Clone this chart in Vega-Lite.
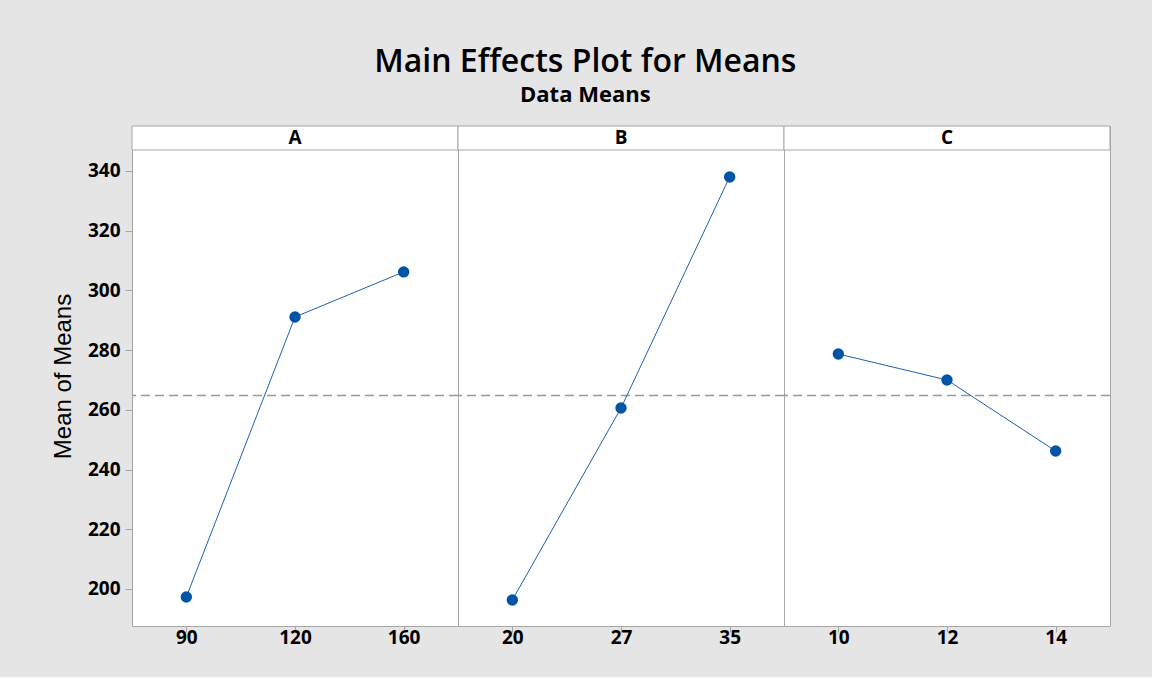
{
  "$schema": "https://vega.github.io/schema/vega-lite/v6.json",
  "background": "#e5e5e5",
  "padding": {"left": 51, "top": 46, "right": 41, "bottom": 29},
  "title": {
    "text": "Main Effects Plot for Means",
    "subtitle": "Data Means",
    "anchor": "middle",
    "frame": "bounds",
    "font": "Open Sans",
    "fontSize": 32,
    "fontWeight": 600,
    "color": "#000000",
    "subtitleFont": "Open Sans",
    "subtitleFontSize": 22,
    "subtitleFontWeight": 700,
    "subtitleColor": "#000000",
    "subtitlePadding": 6,
    "offset": 18,
    "dx": 4
  },
  "data": {
    "values": [
      {"factor": "A", "level": 90, "mean": 197.3, "grand": 264.8},
      {"factor": "A", "level": 120, "mean": 291.1, "grand": 264.8},
      {"factor": "A", "level": 160, "mean": 306.2, "grand": 264.8},
      {"factor": "B", "level": 20, "mean": 196.3, "grand": 264.8},
      {"factor": "B", "level": 27, "mean": 260.6, "grand": 264.8},
      {"factor": "B", "level": 35, "mean": 338.0, "grand": 264.8},
      {"factor": "C", "level": 10, "mean": 278.7, "grand": 264.8},
      {"factor": "C", "level": 12, "mean": 270.0, "grand": 264.8},
      {"factor": "C", "level": 14, "mean": 246.2, "grand": 264.8}
    ]
  },
  "facet": {
    "column": {"field": "factor", "type": "nominal", "header": null}
  },
  "spacing": 0,
  "bounds": "flush",
  "resolve": {"scale": {"x": "independent"}},
  "spec": {
    "width": 326,
    "height": 500,
    "layer": [
      {
        "transform": [{"aggregate": [{"op": "count", "as": "n"}], "groupby": ["factor"]}],
        "mark": {"type": "rect", "fill": "#ffffff", "stroke": "#a6a6a6", "strokeWidth": 1},
        "encoding": {
          "y": {"datum": 347.03, "type": "quantitative", "scale": {"domain": [187.6, 355.07], "nice": false, "zero": false}},
          "y2": {"datum": 355.07}
        }
      },
      {
        "transform": [{"aggregate": [{"op": "count", "as": "n"}], "groupby": ["factor"]}],
        "mark": {"type": "text", "font": "Open Sans", "fontSize": 19, "fontWeight": 700, "color": "#000000", "baseline": "middle", "align": "center"},
        "encoding": {
          "y": {"datum": 351.0, "type": "quantitative"},
          "text": {"field": "factor"}
        }
      },
      {
        "mark": {"type": "rule", "color": "#999999", "strokeWidth": 1.5, "strokeDash": [9, 5]},
        "encoding": {
          "y": {"field": "grand", "type": "quantitative", "aggregate": "mean"}
        }
      },
      {
        "mark": {"type": "line", "color": "#1f5fb0", "strokeWidth": 1},
        "encoding": {
          "x": {"field": "level", "type": "ordinal"},
          "y": {"field": "mean", "type": "quantitative"}
        }
      },
      {
        "mark": {"type": "point", "filled": true, "opacity": 1, "color": "#0054a6", "size": 130},
        "encoding": {
          "x": {
            "field": "level",
            "type": "ordinal",
            "scale": {"type": "point", "padding": 0.5},
            "axis": {
              "title": null,
              "labelAngle": 0,
              "labelAlign": "center",
              "domain": false,
              "ticks": true,
              "tickColor": "#a6a6a6",
              "tickSize": 6,
              "labelFont": "Open Sans",
              "labelFontSize": 19,
              "labelFontWeight": 700,
              "labelColor": "#000000",
              "labelPadding": 5
            }
          },
          "y": {
            "field": "mean",
            "type": "quantitative",
            "axis": {
              "title": "Mean of Means",
              "titleFont": "Liberation Sans",
              "titleFontSize": 24,
              "titleFontWeight": 400,
              "titleColor": "#000000",
              "titlePadding": 12,
              "values": [200, 220, 240, 260, 280, 300, 320, 340],
              "grid": false,
              "domain": false,
              "tickColor": "#a6a6a6",
              "tickSize": 7,
              "labelFont": "Open Sans",
              "labelFontSize": 19,
              "labelFontWeight": 700,
              "labelColor": "#000000",
              "labelPadding": 5
            }
          }
        }
      }
    ]
  },
  "config": {
    "view": {"fill": "#ffffff", "stroke": "#a6a6a6", "strokeWidth": 1}
  }
}
